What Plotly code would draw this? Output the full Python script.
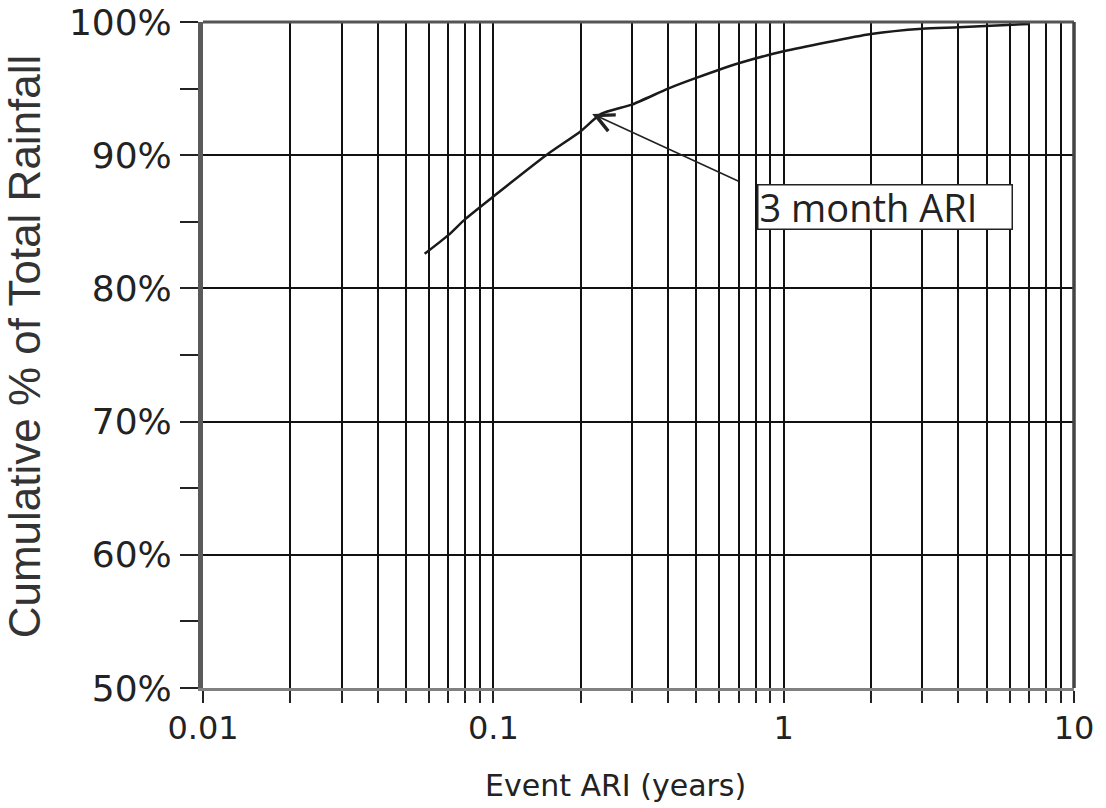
import numpy as np
import plotly.graph_objects as go

# Data
ari_years = [0.058, 0.07, 0.08, 0.1, 0.152, 0.2, 0.235, 0.3, 0.4, 0.5, 0.7, 1.0, 2.0, 3.0, 4.0, 7.0]
cum_pct = [82.6, 84.0, 85.2, 86.9, 90.0, 91.8, 93.1, 93.8, 95.0, 95.8, 96.9, 97.8, 99.1, 99.5, 99.6, 99.85]

x_tick_vals = [m * 10.0 ** e for e in (-2, -1, 0) for m in range(1, 10)] + [10.0]
x_tick_text = ["0.01", "", "", "", "", "", "", "", "",
               "0.1", "", "", "", "", "", "", "", "",
               "1", "", "", "", "", "", "", "", "",
               "10"]
y_tick_vals = [50, 60, 70, 80, 90, 100]
y_tick_text = ["50%", "60%", "70%", "80%", "90%", "100%"]

x_title = "Event ARI (years)"
y_title = "Cumulative % of Total Rainfall"
annot_text = "3 month ARI"
arrow_tip = (0.219, 93.1)
arrow_tail = (0.708, 88.0)
label_pos = (2.23, 86.1)

fig = go.Figure()
fig.add_trace(go.Scatter(
    x=ari_years, y=cum_pct, mode="lines",
    line=dict(color="#1a1a1a", width=2.5, shape="spline", smoothing=0.6),
    showlegend=False, hoverinfo="skip",
))

fig.update_layout(
    width=1106, height=808,
    margin=dict(l=203, r=32, t=22, b=120),
    paper_bgcolor="white", plot_bgcolor="white",
    font=dict(family="DejaVu Sans", color="#222222"),
    xaxis=dict(
        type="log", range=[-2, 1], automargin=False,
        tickvals=x_tick_vals, ticktext=x_tick_text,
        showgrid=True, gridcolor="#111111", gridwidth=1.8,
        ticks="outside", ticklen=12, tickwidth=1.5, tickcolor="#222222",
        tickfont=dict(family="DejaVu Sans", size=32, color="#222222"),
        ticklabelstandoff=-2,
        showline=True, linecolor="#808080", linewidth=3,
        zeroline=False,
    ),
    yaxis=dict(
        range=[50, 100], automargin=False,
        tickvals=y_tick_vals, ticktext=y_tick_text,
        showgrid=True, gridcolor="#111111", gridwidth=1.8,
        ticks="outside", ticklen=18, tickwidth=1.5, tickcolor="#222222",
        minor=dict(dtick=5, ticks="outside", ticklen=18, tickwidth=1.5,
                   tickcolor="#222222", showgrid=False),
        tickfont=dict(family="DejaVu Sans", size=36, color="#222222"),
        ticklabelstandoff=1, ticklabeloverflow="allow",
        showline=True, linecolor="#5a5a5a", linewidth=5,
        zeroline=False,
    ),
    shapes=[
        dict(type="line", xref="paper", yref="paper", x0=0, x1=1, y0=1, y1=1,
             line=dict(color="#555555", width=3)),
        dict(type="line", xref="paper", yref="paper", x0=1, x1=1, y0=0, y1=1,
             line=dict(color="#444444", width=3.5)),
    ],
    annotations=[
        dict(x=np.log10(arrow_tip[0]), y=arrow_tip[1], xref="x", yref="y",
             ax=np.log10(arrow_tail[0]), ay=arrow_tail[1], axref="x", ayref="y",
             text="", showarrow=True, arrowhead=5, arrowsize=2.2, arrowwidth=1.6,
             arrowcolor="#222222", standoff=0),
        dict(x=np.log10(label_pos[0]), y=label_pos[1], xref="x", yref="y",
             text=annot_text, showarrow=False, width=251, height=41,
             align="left", valign="middle",
             font=dict(family="Open Sans", size=38, color="#222222"),
             bgcolor="white", bordercolor="#222222", borderwidth=1.5, borderpad=1),
        dict(x=0.474, y=0, xref="paper", yref="paper", yshift=-97,
             xanchor="center", yanchor="middle", showarrow=False,
             text=x_title, font=dict(family="DejaVu Sans", size=30, color="#222222")),
        dict(x=0, y=0.513, xref="paper", yref="paper", xshift=-179,
             xanchor="center", yanchor="middle", showarrow=False, textangle=-90,
             text=y_title, font=dict(family="Liberation Sans", size=44, color="#333333")),
    ],
)

fig.write_html("out.html", config={"displayModeBar": False},
               post_script="document.body.style.margin='0';")
